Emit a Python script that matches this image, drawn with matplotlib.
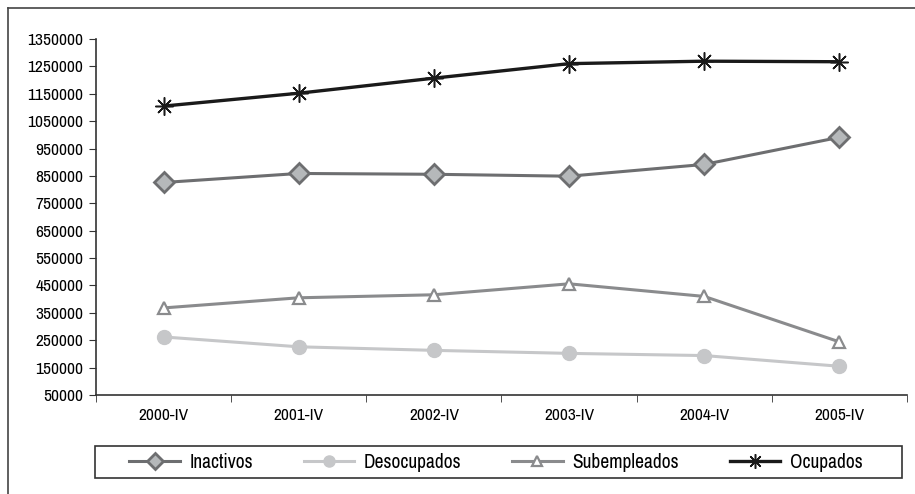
import numpy as np
import matplotlib.pyplot as plt
from matplotlib.lines import Line2D
from matplotlib.patches import Rectangle

plt.rcParams['font.family'] = ['Archivo Narrow', 'DejaVu Sans']

# data
PERIODS = ["2000-IV", "2001-IV", "2002-IV", "2003-IV", "2004-IV", "2005-IV"]
INACTIVOS = [826000, 859000, 856000, 849000, 892000, 991000]
DESOCUPADOS = [262000, 226000, 213000, 202000, 194000, 155000]
SUBEMPLEADOS = [368000, 405000, 416000, 456000, 410000, 244000]
OCUPADOS = [1105000, 1152000, 1207000, 1260000, 1269000, 1267000]
YTICKS = list(range(50000, 1350001, 100000))

W, H = 915, 494
fig = plt.figure(figsize=(W / 100, H / 100), dpi=100)
ax = fig.add_axes([96/W, 1-395/H, 811/W, (395-39)/H])

x = np.arange(len(PERIODS))
ax.plot(x, INACTIVOS, color='#6d6e70', lw=2.2, marker='D', ms=10,
        mfc='#b5b8ba', mec='#6d6e70', mew=2, label='Inactivos', zorder=3)
ax.plot(x, DESOCUPADOS, color='#c6c7c9', lw=2.2, marker='o', ms=10,
        mfc='#c6c7c9', mec='#c6c7c9', label='Desocupados', zorder=3)
ax.plot(x, SUBEMPLEADOS, color='#8a8b8d', lw=2.2, marker='^', ms=9,
        mfc='white', mec='#8a8b8d', mew=1.6, label='Subempleados', zorder=3)
ax.plot(x, OCUPADOS, color='#1a1a1a', lw=2.4, marker=(8, 2, 0), ms=13,
        mec='#1a1a1a', mew=1.1, label='Ocupados', zorder=3)

ax.set_xlim(-0.5, len(PERIODS) - 0.5)
ax.set_ylim(50000, 1350000)
ax.set_yticks(YTICKS)
ax.set_yticklabels([str(v) for v in YTICKS], fontsize=12.5)
ax.set_xticks(x)
ax.set_xticklabels(PERIODS, fontsize=12.5)
ax.set_xticks(np.arange(len(PERIODS) + 1) - 0.5, minor=True)
ax.tick_params(axis='x', which='major', length=0, pad=9)
ax.tick_params(axis='x', which='minor', length=5, direction='out', color='#333333')
ax.tick_params(axis='y', length=5, color='#333333', pad=4)
for s in ['top', 'right']:
    ax.spines[s].set_visible(False)
for s in ['left', 'bottom']:
    ax.spines[s].set_color('#333333')
    ax.spines[s].set_linewidth(1.2)

# legend box below the axes
fig.add_artist(Rectangle((95/W, 1-478/H), 807/W, 32/H, transform=fig.transFigure,
                         fill=False, ec='#333333', lw=1.2))
handles, labels = ax.get_legend_handles_labels()
leg = fig.legend(handles, labels, loc='center', ncol=4, fontsize=14,
                 bbox_to_anchor=(496/W, 1-462/H), frameon=False,
                 handlelength=2.6, handletextpad=0.5, columnspacing=2.6,
                 markerscale=0.8)

# outer frame lines
fig.add_artist(Line2D([8/W, 8/W], [0, 1-8/H], transform=fig.transFigure,
                      color='#444444', lw=1.2))
fig.add_artist(Line2D([8/W, 1], [1-8/H, 1-8/H], transform=fig.transFigure,
                      color='#444444', lw=1.2))

fig.savefig('out.png', dpi=100)
